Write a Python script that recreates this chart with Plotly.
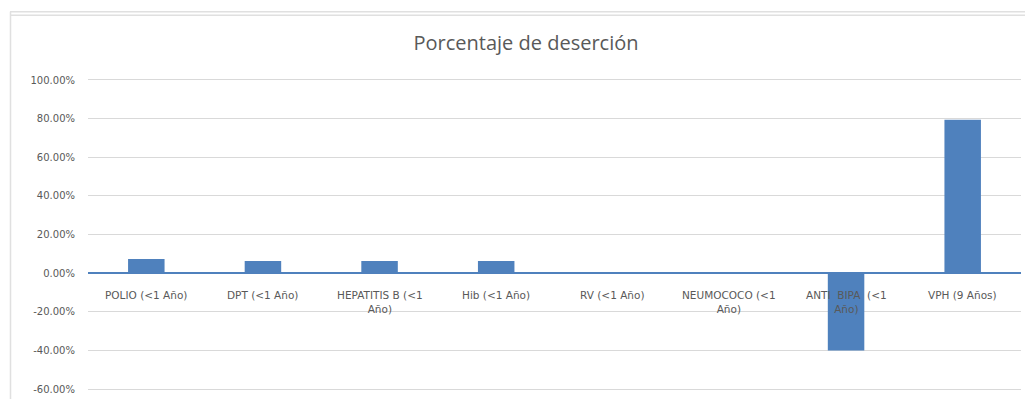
import plotly.graph_objects as go

# Vacunas y porcentaje de deserción
categorias = [
    "POLIO (<1 Año)",
    "DPT (<1 Año)",
    "HEPATITIS B (<1<br>Año)",
    "Hib (<1 Año)",
    "RV (<1 Año)",
    "NEUMOCOCO (<1<br>Año)",
    "ANTI  BIPA  (<1<br>Año)",
    "VPH (9 Años)",
]
desercion = [7.3, 6.3, 6.3, 6.3, 0.0, 0.0, -40.0, 79.4]

y_ticks = [100, 80, 60, 40, 20, 0, -20, -40, -60]
y_tick_text = [f"{v:.2f}%" for v in y_ticks]

W, H = 1025, 399
ML, MR, MT, MB = 88, 4, 80, 7
BAR = "#4F81BD"
GRID = "#D9D9D9"
TXT = "#595959"
FONT = "Open Sans"
LABEL_FONT = "DejaVu Sans"

fig = go.Figure()
fig.add_trace(go.Bar(
    x=list(range(len(categorias))),
    y=desercion,
    marker=dict(color=BAR, line=dict(width=0)),
    hoverinfo="skip",
))

# Category labels sit just under the zero line
for i, lab in enumerate(categorias):
    fig.add_annotation(
        x=i, y=0, xref="x", yref="y",
        text=lab, showarrow=False,
        yanchor="top", yshift=-14,
        font=dict(family=LABEL_FONT, size=10.5, color=TXT),
        align="center",
    )

# Chart area frame (top double rule and left rule)
pw = W - ML - MR
ph = H - MT - MB
def py(px):
    return 1 + (MT - px) / ph
def px_x(px):
    return (px - ML) / pw

frame = dict(color="#E0E0E0", width=1.5)
fig.add_shape(type="line", xref="paper", yref="paper",
              x0=px_x(10), x1=px_x(1030), y0=py(11), y1=py(11), line=frame)
fig.add_shape(type="line", xref="paper", yref="paper",
              x0=px_x(10), x1=px_x(1030), y0=py(14.5), y1=py(14.5), line=frame)
fig.add_shape(type="line", xref="paper", yref="paper",
              x0=px_x(10.5), x1=px_x(10.5), y0=py(11), y1=py(405), line=frame)

fig.update_layout(
    width=W, height=H,
    margin=dict(l=ML, r=MR, t=MT, b=MB),
    paper_bgcolor="white", plot_bgcolor="white",
    showlegend=False,
    bargap=0.687,
    title=dict(
        text="Porcentaje de deserción",
        xref="container", yref="container",
        x=526 / W, y=1 - 43 / H, xanchor="center", yanchor="middle",
        font=dict(family=FONT, size=20, color=TXT),
    ),
    xaxis=dict(
        range=[-0.5, len(categorias) - 0.5],
        showticklabels=False, showgrid=False, zeroline=False,
        showline=True, linecolor=GRID, linewidth=1, mirror=True,
        ticks="",
    ),
    yaxis=dict(
        range=[-60, 100],
        tickvals=y_ticks, ticktext=y_tick_text,
        tickfont=dict(family=LABEL_FONT, size=10, color=TXT),
        showgrid=True, gridcolor=GRID, gridwidth=1,
        zeroline=True, zerolinecolor=BAR, zerolinewidth=1.5,
        showline=False, ticks="",
        ticklabelstandoff=12,
    ),
)

fig.write_html("out.html")
